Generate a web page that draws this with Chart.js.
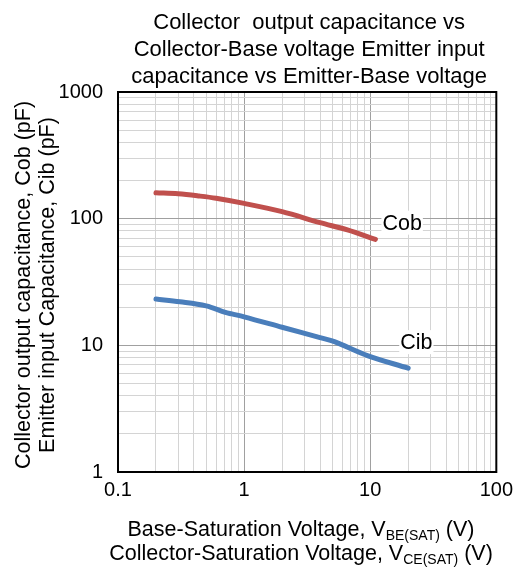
<!DOCTYPE html>
<html>
<head>
<meta charset="utf-8">
<script src="https://cdn.jsdelivr.net/npm/chart.js@4.4.1/dist/chart.umd.min.js"></script>
<style>
html,body{margin:0;padding:0;background:#fff;}
#wrap{width:519px;height:570px;}
</style>
</head>
<body>
<div id="wrap"><canvas id="c" width="519" height="570"></canvas></div>
<script>
// ---- data ----
const cobVoltage = [0.2, 0.3, 0.44, 0.6, 1, 2, 4, 6.6, 11];
const cobValues  = [160, 157, 151, 145, 132, 113.5, 93, 81.5, 68.7];
const cibVoltage = [0.2, 0.31, 0.5, 0.71, 0.8, 1, 2, 4, 5.2, 9.5, 20];
const cibValues  = [23.2, 22.1, 20.5, 18.2, 17.7, 16.8, 13.9, 11.5, 10.7, 8.3, 6.6];
const xTickLabels = ['0.1', '1', '10', '100'];
const yTickLabels = ['1', '10', '100', '1000'];
const titleLines = ['Collector  output capacitance vs', 'Collector-Base voltage Emitter input', 'capacitance vs Emitter-Base voltage'];
const yTitleLines = ['Collector output capacitance, Cob (pF)', 'Emitter input Capacitance, Cib (pF)'];
const xTitleLines = [['Base-Saturation Voltage, V', 'BE(SAT)', ' (V)'], ['Collector-Saturation Voltage, V', 'CE(SAT)', ' (V)']];
const seriesNames = ['Cob', 'Cib'];
const seriesLabelAt = [[12.5, 93], [17.3, 10.6]];

const FONT = '"Liberation Sans", Arial, sans-serif';

function logTicks(minExp, maxExp) {
  const t = [];
  for (let e = minExp; e < maxExp; e++) {
    for (let m = 1; m <= 9; m++) t.push({value: +(m * Math.pow(10, e)).toPrecision(3), major: m === 1});
  }
  t.push({value: Math.pow(10, maxExp), major: true});
  return t;
}
function isMajor(v) {
  const l = Math.log10(v);
  return Math.abs(l - Math.round(l)) < 1e-6;
}
function toPts(xs, ys) { return xs.map((x, i) => ({x: x, y: ys[i]})); }

const textPlugin = {
  id: 'texts',
  afterDraw(chart) {
    const ctx = chart.ctx, a = chart.chartArea;
    ctx.save();
    // plot border
    ctx.strokeStyle = '#000';
    ctx.lineWidth = 2;
    ctx.strokeRect(a.left, a.top, a.right - a.left, a.bottom - a.top);
    ctx.fillStyle = '#000';
    // title
    ctx.font = '22px ' + FONT;
    ctx.textAlign = 'center';
    ctx.textBaseline = 'alphabetic';
    const cx = (a.left + a.right) / 2 + 2;
    titleLines.forEach((s, i) => ctx.fillText(s, cx, 29 + i * 27));
    // series labels
    const xs = chart.scales.x, ys = chart.scales.y;
    ctx.font = '21.5px ' + FONT;
    ctx.textAlign = 'left';
    ctx.textBaseline = 'middle';
    seriesNames.forEach((n, i) => {
      const px = xs.getPixelForValue(seriesLabelAt[i][0]);
      const py = ys.getPixelForValue(seriesLabelAt[i][1]);
      const w = ctx.measureText(n).width;
      ctx.fillStyle = '#fff';
      ctx.fillRect(px - 1, py - 12, w + 2, 24);
      ctx.fillStyle = '#000';
      ctx.fillText(n, px, py + 1);
    });
    // x title with subscripts
    ctx.textBaseline = 'alphabetic';
    ctx.textAlign = 'left';
    xTitleLines.forEach((parts, i) => {
      ctx.font = '21.5px ' + FONT;
      const w0 = ctx.measureText(parts[0]).width;
      const w2 = ctx.measureText(parts[2]).width;
      ctx.font = '14px ' + FONT;
      const w1 = ctx.measureText(parts[1]).width;
      let x = 301 - (w0 + w1 + w2) / 2;
      const by = 536 + i * 23.5;
      ctx.font = '21.5px ' + FONT;
      ctx.fillText(parts[0], x, by); x += w0;
      ctx.font = '14px ' + FONT;
      ctx.fillText(parts[1], x, by + 4); x += w1;
      ctx.font = '21.5px ' + FONT;
      ctx.fillText(parts[2], x, by);
    });
    // y title (rotated)
    ctx.font = '21.5px ' + FONT;
    ctx.textAlign = 'center';
    const cy = 285;
    yTitleLines.forEach((s, i) => {
      ctx.save();
      ctx.translate(30 + i * 23.5, cy);
      ctx.rotate(-Math.PI / 2);
      ctx.fillText(s, 0, 0);
      ctx.restore();
    });
    ctx.restore();
  }
};

new Chart(document.getElementById('c'), {
  type: 'line',
  data: {
    datasets: [
      {label: seriesNames[0], data: toPts(cobVoltage, cobValues), borderColor: '#c0504d', borderWidth: 5, pointRadius: 0, tension: 0.35, borderCapStyle: 'round', fill: false},
      {label: seriesNames[1], data: toPts(cibVoltage, cibValues), borderColor: '#4a7ebb', borderWidth: 5, pointRadius: 0, tension: 0.35, borderCapStyle: 'round', fill: false}
    ]
  },
  options: {
    responsive: false,
    animation: false,
    events: [],
    layout: {padding: {left: 0, right: 19, top: 92, bottom: 0}},
    plugins: {legend: {display: false}, title: {display: false}, tooltip: {enabled: false}},
    scales: {
      x: {
        type: 'logarithmic', min: 0.1, max: 100,
        afterBuildTicks(s) { s.ticks = logTicks(-1, 2); },
        afterFit(s) { s.height = 98; },
        border: {display: false},
        grid: {drawTicks: false, color: c => isMajor(c.tick.value) ? '#a0a0a0' : '#d4d4d4', lineWidth: 1},
        ticks: {
          autoSkip: false, maxRotation: 0, padding: 6, color: '#000',
          font: {family: FONT, size: 20},
          callback: v => { if (!isMajor(v)) return ''; const i = Math.round(Math.log10(v)) + 1; return xTickLabels[i]; }
        }
      },
      y: {
        type: 'logarithmic', min: 1, max: 1000,
        afterBuildTicks(s) { s.ticks = logTicks(0, 3); },
        afterFit(s) { s.width = 118; },
        border: {display: false},
        grid: {drawTicks: false, color: c => isMajor(c.tick.value) ? '#a0a0a0' : '#d4d4d4', lineWidth: 1},
        ticks: {
          autoSkip: false, padding: 15, color: '#000',
          font: {family: FONT, size: 20},
          callback: v => { if (!isMajor(v)) return ''; const i = Math.round(Math.log10(v)); return yTickLabels[i]; }
        }
      }
    }
  },
  plugins: [textPlugin]
});
</script>
</body>
</html>
